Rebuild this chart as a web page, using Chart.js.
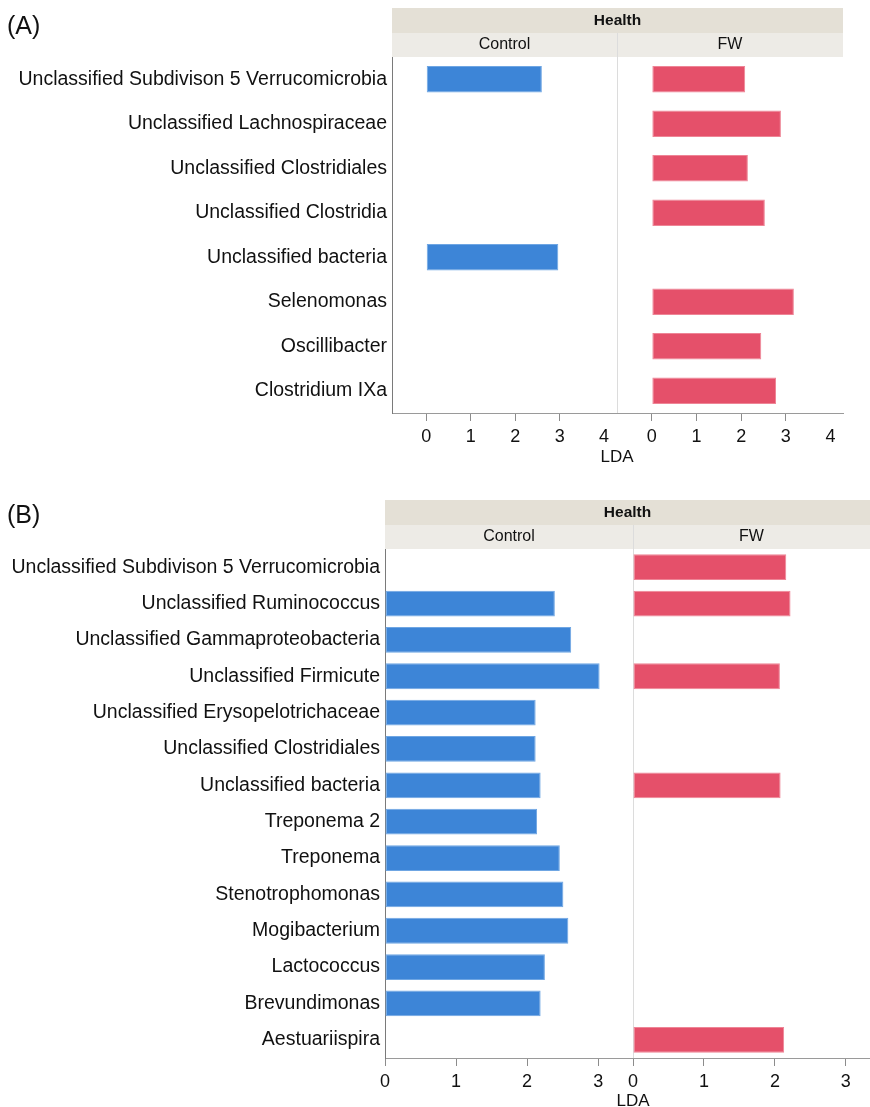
<!DOCTYPE html>
<html>
<head>
<meta charset="utf-8">
<script src="https://cdn.jsdelivr.net/npm/chart.js@4.4.1/dist/chart.umd.min.js"></script>
<style>
  html, body { margin: 0; padding: 0; background: #ffffff; }
  #wrap { position: relative; width: 870px; height: 1107px; overflow: hidden; }
  canvas { position: absolute; left: 0; }
</style>
</head>
<body>
<div id="wrap">
  <canvas id="panelA" width="870" height="480" style="top:0px"></canvas>
  <canvas id="panelB" width="870" height="627" style="top:480px"></canvas>
</div>
<script>
// ---- data ----
const groupTitle = 'Health';
const facetNames = ['Control', 'FW'];
const axisTitle = 'LDA';

const taxaA = [
  'Unclassified Subdivison 5 Verrucomicrobia',
  'Unclassified Lachnospiraceae',
  'Unclassified Clostridiales',
  'Unclassified Clostridia',
  'Unclassified bacteria',
  'Selenomonas',
  'Oscillibacter',
  'Clostridium IXa'
];
const controlA = [2.60, null, null, null, 2.97, null, null, null];
const fwA      = [2.09, 2.89, 2.15, 2.53, null, 3.18, 2.45, 2.78];
const ticksA   = [0, 1, 2, 3, 4];

const taxaB = [
  'Unclassified Subdivison 5 Verrucomicrobia',
  'Unclassified Ruminococcus',
  'Unclassified Gammaproteobacteria',
  'Unclassified Firmicute',
  'Unclassified Erysopelotrichaceae',
  'Unclassified Clostridiales',
  'Unclassified bacteria',
  'Treponema 2',
  'Treponema',
  'Stenotrophomonas',
  'Mogibacterium',
  'Lactococcus',
  'Brevundimonas',
  'Aestuariispira'
];
const controlB = [null, 2.39, 2.62, 3.02, 2.12, 2.12, 2.19, 2.14, 2.46, 2.51, 2.58, 2.25, 2.19, null];
const fwB      = [2.16, 2.22, null, 2.07, null, null, 2.08, null, null, null, null, null, null, 2.13];
const ticksB   = [0, 1, 2, 3];

// ---- styling ----
const BLUE = '#3d85d7';
const RED = '#e5506a';
const FONT = '"Liberation Sans", Arial, Helvetica, sans-serif';
Chart.defaults.font.family = FONT;
Chart.defaults.color = '#111111';

// header strip, facet divider, axis title and panel tag
const facetDecor = {
  id: 'facetDecor',
  beforeDatasetsDraw(chart, args, o) {
    const { ctx, chartArea: a } = chart;
    const mid = chart.scales.x2.left;
    ctx.save();
    // group band
    ctx.fillStyle = '#e4e0d6';
    ctx.fillRect(a.left, a.top - 49, a.right - a.left, 25);
    // facet band
    ctx.fillStyle = '#edebe6';
    ctx.fillRect(a.left, a.top - 24, a.right - a.left, 24);
    // divider
    ctx.strokeStyle = '#dcdcdc';
    ctx.lineWidth = 1;
    ctx.beginPath();
    ctx.moveTo(Math.round(mid) + 0.5, a.top - 24);
    ctx.lineTo(Math.round(mid) + 0.5, a.bottom);
    ctx.stroke();
    ctx.fillStyle = '#111111';
    ctx.textAlign = 'center';
    ctx.textBaseline = 'middle';
    ctx.font = 'bold 15.5px ' + FONT;
    ctx.fillText(groupTitle, (a.left + a.right) / 2, a.top - 36);
    ctx.font = '16px ' + FONT;
    ctx.fillText(facetNames[0], (a.left + mid) / 2, a.top - 12);
    ctx.fillText(facetNames[1], (mid + a.right) / 2, a.top - 12);
    ctx.restore();
  },
  afterDraw(chart, args, o) {
    const { ctx, chartArea: a } = chart;
    const mid = chart.scales.x2.left;
    ctx.save();
    ctx.fillStyle = '#111111';
    ctx.textAlign = 'center';
    ctx.textBaseline = 'middle';
    ctx.font = '17px ' + FONT;
    ctx.fillText(axisTitle, mid, a.bottom + o.titleOffset);
    ctx.textAlign = 'left';
    ctx.font = '25px ' + FONT;
    ctx.fillText(o.tag, 7, o.tagY);
    ctx.restore();
  }
};

function xScale(min, max, ticks, hideTick) {
  return {
    type: 'linear',
    position: 'bottom',
    stack: 'facets',
    stackWeight: 1,
    min: min,
    max: max,
    afterBuildTicks: s => { s.ticks = ticks.map(v => ({ value: v })); },
    grid: {
      drawOnChartArea: false,
      drawTicks: true,
      tickLength: 8,
      tickColor: c => (c.tick && c.tick.value === hideTick) ? 'rgba(0,0,0,0)' : '#8c8c8c'
    },
    border: { display: true, color: '#9a9a9a', width: 1 },
    ticks: { font: { size: 18 }, color: '#111111', padding: 5, maxRotation: 0, autoSkip: false }
  };
}

function makePanel(id, cfg) {
  const xs = xScale(cfg.x1[0], cfg.x1[1], cfg.ticks, cfg.hideTick);
  const xs2 = xScale(cfg.x2[0], cfg.x2[1], cfg.ticks, cfg.hideTick);
  xs.stackWeight = cfg.weights[0];
  xs2.stackWeight = cfg.weights[1];
  xs.afterFit = s => { s.height = cfg.xHeight; };
  xs2.afterFit = s => { s.height = cfg.xHeight; };
  return new Chart(document.getElementById(id), {
    type: 'bar',
    data: {
      labels: cfg.labels,
      datasets: [
        { label: facetNames[0], data: cfg.control, xAxisID: 'x', yAxisID: 'y',
          backgroundColor: BLUE, borderColor: '#6fa6e3', borderWidth: 1, borderSkipped: false,
          grouped: false, categoryPercentage: 1, barPercentage: cfg.bar },
        { label: facetNames[1], data: cfg.fw, xAxisID: 'x2', yAxisID: 'y',
          backgroundColor: RED, borderColor: '#ee8596', borderWidth: 1, borderSkipped: false,
          grouped: false, categoryPercentage: 1, barPercentage: cfg.bar }
      ]
    },
    options: {
      indexAxis: 'y',
      responsive: false,
      animation: false,
      devicePixelRatio: 1,
      layout: { padding: { top: cfg.top, left: 0, right: cfg.right, bottom: 0 } },
      scales: {
        x: xs,
        x2: xs2,
        y: {
          type: 'category',
          position: 'left',
          afterFit: s => { s.width = cfg.yWidth; },
          grid: { display: false, drawTicks: false },
          border: { display: true, color: '#7a7a7a', width: 1 },
          ticks: { font: { size: 19.5 }, color: '#111111', padding: 5, autoSkip: false }
        }
      },
      plugins: {
        legend: { display: false },
        tooltip: { enabled: false },
        facetDecor: { tag: cfg.tag, tagY: cfg.tagY, titleOffset: cfg.titleOffset }
      }
    },
    plugins: [facetDecor]
  });
}

makePanel('panelA', {
  labels: taxaA, control: controlA, fw: fwA, ticks: ticksA, hideTick: 4,
  x1: [-0.77, 4.29], x2: [-0.78, 4.28], weights: [225, 226],
  bar: 0.6, top: 57, right: 27, yWidth: 392, xHeight: 67,
  tag: '(A)', tagY: 27, titleOffset: 44
});

makePanel('panelB', {
  labels: taxaB, control: controlB, fw: fwB, ticks: ticksB, hideTick: null,
  x1: [0, 3.49], x2: [0, 3.34], weights: [248, 237],
  bar: 0.71, top: 69, right: 0, yWidth: 385, xHeight: 49,
  tag: '(B)', tagY: 36, titleOffset: 43
});
</script>
</body>
</html>
